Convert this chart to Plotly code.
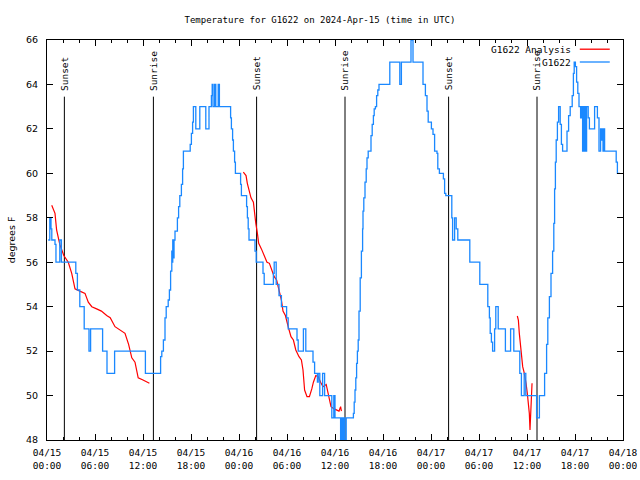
import plotly.graph_objects as go

# ---------------- data (hours since 2024-04-15 00:00 UTC) ----------------
OBS_HOURS = [0.15, 0.35, 0.5, 0.6, 1.0, 1.12, 1.6, 1.8, 3.6, 3.8, 4.1, 4.65, 5.25, 5.45, 6.95, 7.5, 8.45, 12.3,
             14.2, 14.35, 14.55, 14.75, 14.9, 15.15, 15.3, 15.45, 15.6, 15.65, 15.72, 15.8, 15.88, 16.0, 16.3,
             16.45, 16.6, 16.8, 16.95, 17.05, 17.9, 18.05, 18.2, 18.3, 18.6, 19.1, 19.85, 20.25, 20.55, 20.65,
             20.75, 20.95, 21.1, 21.4, 21.55, 22.95, 23.05, 23.2, 23.3, 23.45, 23.55, 24.2, 24.3, 24.95, 25.05,
             25.15, 25.25, 26.0, 26.15, 27.0, 27.15, 28.3, 28.4, 28.65, 29.0, 29.3, 29.95, 30.15, 31.25, 31.4,
             32.05, 32.35, 33.25, 33.45, 33.8, 33.9, 34.1, 34.45, 34.7, 35.6, 35.85, 36.0, 36.7, 36.85, 36.95,
             37.1, 37.2, 37.4, 38.3, 38.4, 38.5, 38.6, 38.7, 38.8, 38.9, 39.0, 39.15, 39.3, 39.45, 39.5, 39.6,
             39.75, 39.9, 40.0, 40.15, 40.5, 40.65, 40.8, 40.9, 41.05, 41.2, 41.35, 41.5, 42.85, 44.1, 44.3,
             45.5, 45.75, 47.0, 47.3, 47.5, 47.65, 48.05, 48.25, 48.45, 48.75, 48.85, 49.05, 49.55, 49.7, 49.85,
             50.6, 50.7, 50.95, 51.15, 51.35, 52.85, 54.1, 55.1, 55.3, 55.4, 55.55, 55.7, 55.95, 56.1, 56.4,
             57.3, 57.95, 58.35, 59.1, 59.3, 59.65, 59.85, 61.2, 61.55, 62.2, 62.3, 62.45, 62.6, 62.8, 63.0,
             63.2, 63.35, 63.45, 63.55, 63.65, 63.8, 63.95, 64.15, 64.3, 64.45, 65.0, 65.2, 65.4, 65.65, 65.8,
             65.9, 66.05, 66.2, 66.35, 66.5, 66.7, 66.85, 66.95, 67.05, 67.15, 67.25, 67.35, 67.45, 67.65,
             67.8, 68.45, 68.8, 69.0, 69.2, 69.3, 69.4, 69.5, 69.6, 69.7, 71.15, 71.3, 71.6]
OBS_TEMPS = [57, 58, 57.5, 57, 56.8, 56, 57, 56, 55.5, 54.75, 54, 53, 52, 53, 52, 51, 52, 51,
             51.75, 52, 52.5, 53.5, 54, 54.3, 54.75, 55.6, 56.5, 56, 57, 56.2, 57, 57.4, 58,
             58.5, 59, 59.5, 60.2, 61, 61.3, 61.8, 62.3, 63, 62, 63, 62, 63, 63.5, 64,
             63, 64, 63, 64, 63, 62.5, 62, 61.5, 61, 60.5, 60, 59.5, 59, 58.5, 58,
             57.5, 57, 56.5, 56, 55.5, 55, 55.5, 56, 55, 54.5, 54, 53.5, 53, 52.5, 52,
             53, 52, 51.5, 51, 50.6, 51, 50, 51, 50, 49, 50, 49, 48, 49, 48,
             49, 48, 49, 49.2, 49.7, 50.25, 50.8, 51.45, 52, 52.5, 53.8, 55.3, 56.5, 57.5, 58.3, 58.9,
             59.6, 60.2, 60.7, 61, 61.7, 62.2, 62.6, 62.9, 63, 63.5, 63.75, 64, 65, 64, 65,
             66, 65, 64, 63.5, 62.8, 62.3, 62, 61.75, 61, 60.9, 60.2, 60, 59.75, 59.1, 59,
             58, 57, 58, 57.5, 57, 56, 55, 54, 53.5, 52.8, 52.4, 52, 53, 54, 53,
             52, 53, 52, 51, 50, 51, 50, 49, 50, 51, 51, 52.3, 53.5, 54.45, 55.5,
             56.5, 57.75, 59.3, 60.5, 61.5, 62.3, 63, 62.2, 61.3, 61, 61.9, 62.6, 63, 63.5, 64.5,
             65, 64.8, 64.1, 63.6, 63, 62.5, 63, 61, 63, 61, 63, 61, 63, 62.5,
             62, 63, 62.5, 61, 62, 61.5, 62, 61, 62, 61, 60.5, 60, 60]

# analysis series: three separate runs (None = gap)
ANA_HOURS = [0.59, 1.0, 1.2, 1.6, 2.1, 2.66, 3.09, 3.5, 4.1, 4.75, 5.16, 5.6, 6.2, 6.8, 7.46, 7.9, 8.5, 9.1,
             9.75, 10.2, 10.6, 11.0, 11.4, 12.0, 12.5, 12.8, None,
             24.54, 24.88, 25.04, 25.25, 25.5, 25.8, 25.9, 26.1, 26.3, 26.46, 26.8, 27.04, 27.5, 27.8, 28.1,
             28.4, 28.7, 29.1, 29.3, 29.5, 29.8, 30.2, 30.5, 30.8, 31.1, 31.5, 31.8, 32.0, 32.1, 32.2, 32.5,
             32.8, 33.1, 33.3, 33.6, 33.9, 34.2, 34.5, 34.9, 35.2, 35.5, 35.9, 36.3, 36.5, 36.7, 36.8, None,
             58.79, 58.92, 59.04, 59.21, 59.33, 59.46, 59.63, 59.75, 59.88, 60.04, 60.17, 60.29, 60.375,
             60.46, 60.54, 60.63]
ANA_TEMPS = [58.56, 58.2, 57.45, 56.8, 56.3, 56.0, 55.5, 54.8, 54.7, 54.6, 54.2, 54.0, 53.9, 53.8, 53.6, 53.5,
             53.1, 52.95, 52.8, 52.3, 51.7, 51.5, 50.8, 50.7, 50.6, 50.55, None,
             60.05, 59.9, 59.55, 59.2, 58.9, 58.7, 58.35, 57.75, 57.3, 56.85, 56.6, 56.4, 56.0, 55.95, 55.65,
             55.35, 55.2, 54.6, 54.3, 53.8, 53.6, 53.03, 52.65, 52.5, 52.05, 51.75, 51.6, 51.15, 50.6, 50.25,
             49.95, 49.95, 50.3, 50.6, 50.9, 50.85, 50.6, 50.4, 50.5, 49.95, 49.5, 49.4, 49.35, 49.3, 49.5,
             49.3, None,
             53.58, 53.4, 52.8, 52.05, 51.7, 51.3, 51.05, 50.85, 50.55, 50.1, 49.7, 49.2, 48.45, 49.5, 50.1,
             50.55]

SUN_EVENTS = ["Sunset", "Sunrise", "Sunset", "Sunrise", "Sunset", "Sunrise"]
SUN_HOURS = [2.17, 13.3, 26.2, 37.25, 50.2, 61.25]

X_TICK_HOURS = [0, 6, 12, 18, 24, 30, 36, 42, 48, 54, 60, 66, 72]
X_TICK_LABELS = ["04/15<br>00:00", "04/15<br>06:00", "04/15<br>12:00", "04/15<br>18:00",
                 "04/16<br>00:00", "04/16<br>06:00", "04/16<br>12:00", "04/16<br>18:00",
                 "04/17<br>00:00", "04/17<br>06:00", "04/17<br>12:00", "04/17<br>18:00",
                 "04/18<br>00:00"]

TITLE = "Temperature for G1622 on 2024-Apr-15 (time in UTC)"
Y_MIN, Y_MAX = 48, 66
SUN_LINE_TOP = 63.45

BLUE = "#1a88ff"
RED = "#ff0000"
MONO = "DejaVu Sans Mono"
SANS = "DejaVu Sans"

fig = go.Figure()

# sunrise / sunset markers
sx, sy = [], []
for h in SUN_HOURS:
    sx += [h, h, None]
    sy += [Y_MIN, SUN_LINE_TOP, None]
fig.add_trace(go.Scatter(x=sx, y=sy, mode="lines", line=dict(color="black", width=1),
                         showlegend=False, hoverinfo="skip"))

fig.add_trace(go.Scatter(x=ANA_HOURS, y=ANA_TEMPS, mode="lines", name="G1622 Analysis",
                         line=dict(color=RED, width=1.2), connectgaps=False, showlegend=False))
fig.add_trace(go.Scatter(x=OBS_HOURS, y=OBS_TEMPS, mode="lines", name="G1622",
                         line=dict(color=BLUE, width=1.3, shape="hv"), showlegend=False))

for name, h in zip(SUN_EVENTS, SUN_HOURS):
    fig.add_annotation(x=h, y=SUN_LINE_TOP, text=name, textangle=-90, showarrow=False,
                       xanchor="center", yanchor="bottom", yshift=4,
                       font=dict(family=MONO, size=9.5, color="black"))

# gnuplot-style key (text then line sample)
for i, (label, color) in enumerate([("G1622 Analysis", RED), ("G1622", BLUE)]):
    yk = 0.977 - i * 0.032
    fig.add_annotation(xref="paper", yref="paper", x=0.913, y=yk, text=label, showarrow=False,
                       xanchor="right", yanchor="middle", font=dict(family=MONO, size=9.5, color="black"))
    fig.add_shape(type="line", xref="paper", yref="paper", x0=0.925, x1=0.977, y0=yk, y1=yk,
                  line=dict(color=color, width=1.3))

fig.update_layout(
    width=640, height=480,
    margin=dict(l=47, r=17, t=40, b=40, autoexpand=False),
    paper_bgcolor="white", plot_bgcolor="white",
    title=dict(text=TITLE, x=0.5, xref="container", xanchor="center",
               y=1 - 20 / 480, yref="container", yanchor="middle", automargin=False,
               font=dict(family=MONO, size=9, color="black")),
    showlegend=False,
)
fig.update_xaxes(range=[0, 72], tickmode="array", tickvals=X_TICK_HOURS, ticktext=X_TICK_LABELS,
                 ticks="inside", ticklen=6, tickcolor="black", showline=True, linecolor="black",
                 linewidth=1, mirror="ticks", showgrid=False, zeroline=False, ticklabelstandoff=4,
                 automargin=False,
                 minor=dict(dtick=2, tick0=0, ticks="inside", ticklen=3, tickcolor="black", showgrid=False),
                 tickfont=dict(family=MONO, size=9.5, color="black"))
fig.update_yaxes(range=[Y_MIN, Y_MAX], dtick=2, tick0=48, ticks="inside", ticklen=6, tickcolor="black",
                 showline=True, linecolor="black", linewidth=1, mirror="ticks", showgrid=False,
                 zeroline=False, ticklabelstandoff=6, automargin=False,
                 tickfont=dict(family=SANS, size=9.5, color="black"),
                 title=dict(text="degrees F", standoff=8, font=dict(family=SANS, size=9.5, color="black")))

fig.write_html("out.html", config={"displayModeBar": False},
               post_script="document.body.style.margin='0';document.body.style.overflow='hidden';")
